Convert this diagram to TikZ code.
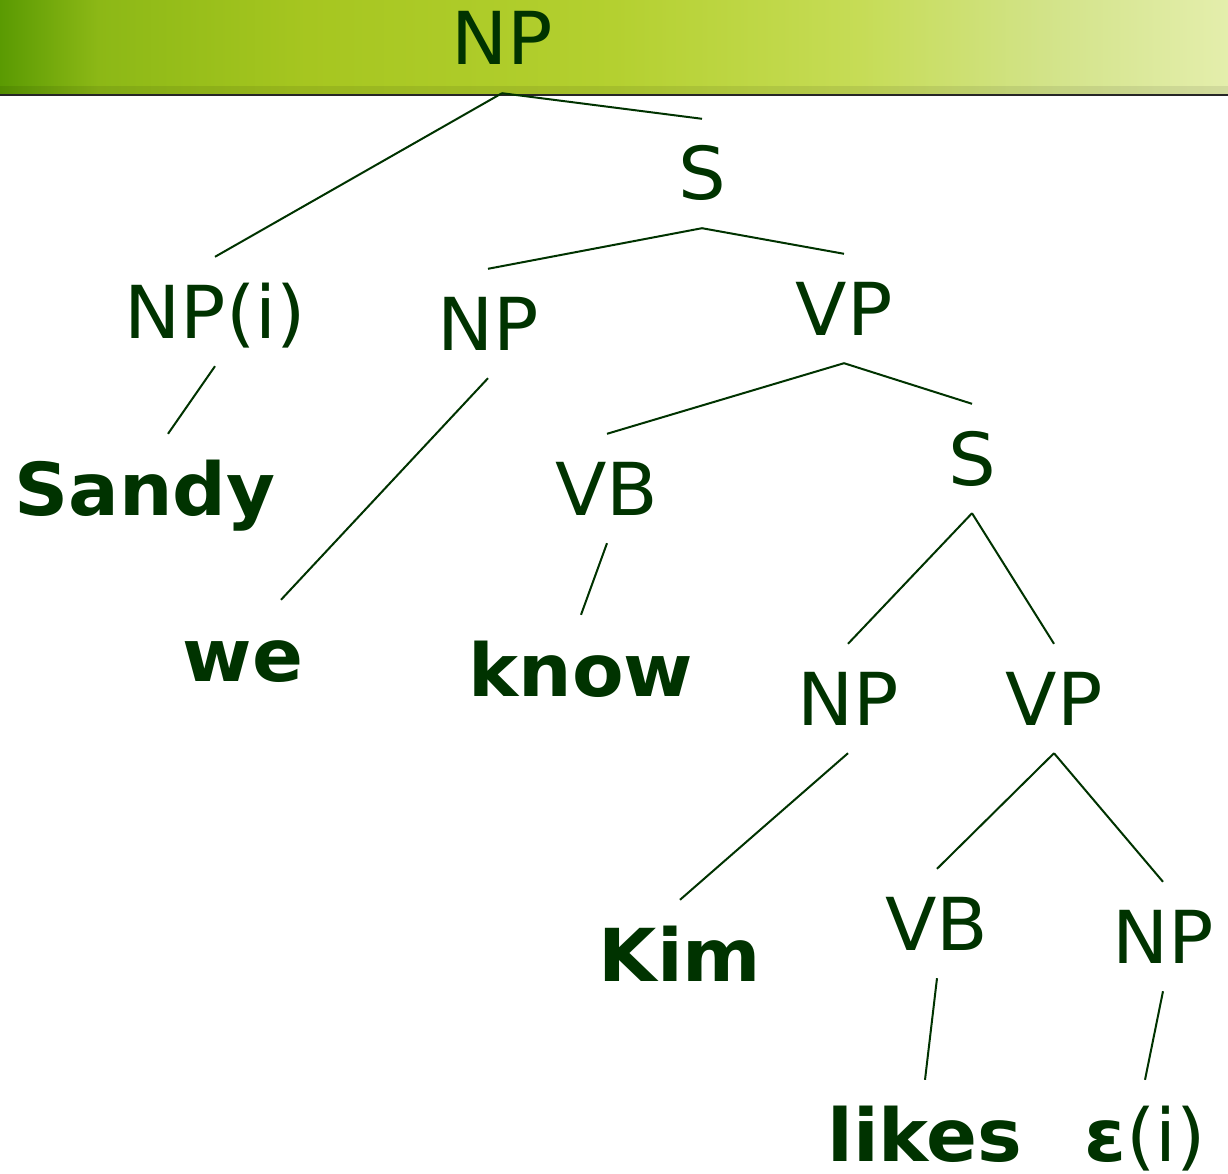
\documentclass[tikz,border=0pt]{standalone}
\usepackage{fontspec}
\setmainfont[FakeStretch=1.03]{DejaVu Sans}
\definecolor{ink}{HTML}{003300}
\definecolor{barA}{HTML}{5A9A02}
\definecolor{barB}{HTML}{8CB816}
\definecolor{barC}{HTML}{A6C620}
\definecolor{barD}{HTML}{B4D030}
\definecolor{barE}{HTML}{C6DC56}
\definecolor{barF}{HTML}{D2E388}
\definecolor{barG}{HTML}{E4EEAC}
% the path covers the middle 50bp of the shading
\pgfdeclarehorizontalshading{titlebar}{100bp}{%
  color(0bp)=(barA); color(25bp)=(barA); color(29bp)=(barB);
  color(37.5bp)=(barC); color(50bp)=(barD); color(60bp)=(barE);
  color(67.5bp)=(barF); color(75bp)=(barG); color(100bp)=(barG)}
\tikzset{
  lab/.style={anchor=base, inner xsep=0pt, inner ysep=28pt,
    text height=53pt, text depth=0pt, text=ink, font=\fontsize{73}{80}\selectfont},
  word/.style={lab, font=\fontsize{73}{80}\selectfont\bfseries},
  edge/.style={draw=ink, line width=2pt}
}
\begin{document}
\begin{tikzpicture}[x=1pt,y=1pt]
\useasboundingbox (0,0) rectangle (1228,-1174);
\fill[white] (0,0) rectangle (1228,-1174);
% title bar
\shade[shading=titlebar] (0,0) rectangle (1228,-95);
\fill[black, opacity=0.08] (0,-86) rectangle (1228,-94);
\draw[black!85, line width=2pt] (0,-95) -- (1228,-95);

% tree labels
\node[lab]  (n0)    at (502,-65)   {NP};
\node[lab]  (s1)    at (702,-200)  {S};
\node[lab]  (npi)   at (215,-338)  {NP(i)};
\node[lab]  (np2)   at (488,-350)  {NP};
\node[lab]  (vp1)   at (844,-335)  {VP};
\node[word] (sandy) at (145,-515)  {Sandy};
\node[lab]  (vb1)   at (607,-515)  {VB};
\node[lab]  (s2)    at (972,-485)  {S};
\node[word] (we)    at (243,-681)  {we};
\node[word] (know)  at (581,-696)  {know};
\node[lab]  (np3)   at (848,-725)  {NP};
\node[lab]  (vp2)   at (1054,-725) {VP};
\node[word] (kim)   at (680,-981)  {Kim};
\node[lab]  (vb2)   at (937,-950)  {VB};
\node[lab]  (np4)   at (1163,-963) {NP};
\node[word] (likes) at (925,-1161) {likes};
\node[lab]  (eps)   at (1145,-1161) {{\bfseries ε}(i)};

% branches
\draw[edge] (n0.south) -- (npi.north);
\draw[edge] (n0.south) -- (s1.north);
\draw[edge] (s1.south) -- (np2.north);
\draw[edge] (s1.south) -- (vp1.north);
\draw[edge] (npi.south) -- ([xshift=23pt]sandy.north);
\draw[edge] (np2.south) -- ([xshift=38pt]we.north);
\draw[edge] (vp1.south) -- (vb1.north);
\draw[edge] (vp1.south) -- (s2.north);
\draw[edge] (vb1.south) -- (know.north);
\draw[edge] (s2.south) -- (np3.north);
\draw[edge] (s2.south) -- (vp2.north);
\draw[edge] (np3.south) -- (kim.north);
\draw[edge] (vp2.south) -- (vb2.north);
\draw[edge] (vp2.south) -- (np4.north);
\draw[edge] (vb2.south) -- (likes.north);
\draw[edge] (np4.south) -- (eps.north);
\end{tikzpicture}
\end{document}
